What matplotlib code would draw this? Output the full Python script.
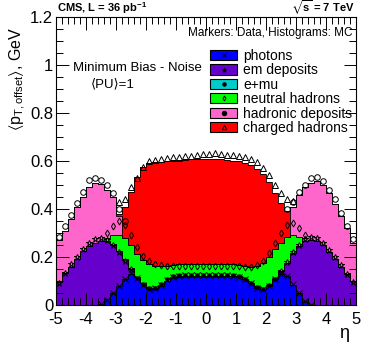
import numpy as np
import matplotlib
matplotlib.use("Agg")
import matplotlib.pyplot as plt
from matplotlib.lines import Line2D
from matplotlib.patches import Rectangle
from matplotlib.legend_handler import HandlerBase
from matplotlib.ticker import MultipleLocator, FormatStrFormatter

plt.rcParams['font.family'] = ['Liberation Sans', 'DejaVu Sans']
plt.rcParams['axes.unicode_minus'] = False
plt.rcParams['mathtext.fontset'] = 'custom'
plt.rcParams['mathtext.rm'] = 'Liberation Sans'
plt.rcParams['mathtext.it'] = 'Liberation Sans'
plt.rcParams['mathtext.bf'] = 'Liberation Sans:bold'
plt.rcParams['mathtext.fallback'] = 'stixsans'

# eta binning, 50 bins of 0.2
eta_edges = np.linspace(-5, 5, 51)

labels = ['photons', 'em deposits', 'e+mu', 'neutral hadrons',
          'hadronic deposits', 'charged hadrons']
colors = ['#0000ff', '#6600cc', '#00cccc', '#00ff00', '#ff66cc', '#ff0000']
markers = ['x', '*', 'o', 'd', 'o', '^']

# MC (histograms), per component, GeV
mc_photons = [0, 0, 0, 0, 0, 0, 0, 0.005, 0.025, 0.05,
              0.08, 0.11, 0.13, 0.115, 0.09, 0.068, 0.068, 0.08, 0.1, 0.113,
              0.118, 0.12, 0.12, 0.12, 0.12, 0.12, 0.12, 0.12, 0.12, 0.12,
              0.117, 0.108, 0.09, 0.072, 0.065, 0.08, 0.11, 0.13, 0.12, 0.085,
              0.05, 0.015, 0, 0, 0, 0, 0, 0, 0, 0]
mc_em = [0.095, 0.135, 0.16, 0.19, 0.225, 0.245, 0.26, 0.26, 0.24, 0.2,
         0.145, 0.08, 0.02, 0, 0, 0, 0, 0, 0, 0,
         0, 0, 0, 0, 0, 0, 0, 0, 0, 0,
         0, 0, 0, 0, 0, 0, 0, 0.01, 0.055, 0.13,
         0.195, 0.25, 0.27, 0.265, 0.25, 0.22, 0.19, 0.16, 0.13, 0.1]
mc_emu = [0, 0, 0, 0, 0, 0, 0, 0, 0, 0,
          0, 0, 0, 0.002, 0.002, 0.002, 0.002, 0.002, 0.002, 0.002,
          0.002, 0.002, 0.002, 0.002, 0.002, 0.002, 0.002, 0.002, 0.002, 0.002,
          0.002, 0.002, 0.002, 0.002, 0.002, 0.002, 0.002, 0, 0, 0,
          0, 0, 0, 0, 0, 0, 0, 0, 0, 0]
mc_neutral = [0, 0, 0, 0, 0, 0, 0, 0, 0.015, 0.04,
              0.065, 0.09, 0.1, 0.095, 0.095, 0.102, 0.094, 0.08, 0.062, 0.052,
              0.05, 0.048, 0.048, 0.048, 0.048, 0.048, 0.048, 0.048, 0.048, 0.048,
              0.048, 0.052, 0.065, 0.088, 0.107, 0.12, 0.12, 0.12, 0.11, 0.075,
              0.04, 0, 0, 0, 0, 0, 0, 0, 0, 0]
mc_hadronic = [0.175, 0.175, 0.2, 0.22, 0.225, 0.245, 0.25, 0.24, 0.2, 0.16,
               0.08, 0, 0, 0, 0, 0, 0, 0, 0, 0,
               0, 0, 0, 0, 0, 0, 0, 0, 0, 0,
               0, 0, 0, 0, 0, 0, 0, 0, 0, 0.12,
               0.175, 0.225, 0.24, 0.25, 0.25, 0.245, 0.23, 0.21, 0.19, 0.16]
mc_charged = [0, 0, 0, 0, 0, 0, 0, 0, 0, 0,
              0.01, 0.13, 0.22, 0.32, 0.39, 0.42, 0.433, 0.435, 0.435, 0.433,
              0.432, 0.434, 0.437, 0.439, 0.439, 0.439, 0.44, 0.439, 0.435, 0.432,
              0.432, 0.43, 0.425, 0.405, 0.373, 0.31, 0.235, 0.165, 0.105, 0,
              0, 0, 0, 0, 0, 0, 0, 0, 0, 0]

# Data (markers), per component, GeV
data_photons = [0, 0, 0, 0, 0, 0, 0, 0.003, 0.022, 0.05,
                0.08, 0.11, 0.132, 0.112, 0.085, 0.068, 0.07, 0.085, 0.105, 0.117,
                0.122, 0.123, 0.123, 0.123, 0.123, 0.123, 0.123, 0.123, 0.123, 0.122,
                0.118, 0.108, 0.09, 0.072, 0.066, 0.08, 0.108, 0.128, 0.12, 0.088,
                0.052, 0.018, 0.002, 0, 0, 0, 0, 0, 0, 0]
data_em = [0.09, 0.135, 0.17, 0.2, 0.235, 0.26, 0.275, 0.277, 0.248, 0.2,
           0.14, 0.075, 0.018, 0, 0, 0, 0, 0, 0, 0,
           0, 0, 0, 0, 0, 0, 0, 0, 0, 0,
           0, 0, 0, 0, 0, 0, 0, 0.012, 0.06, 0.132,
           0.198, 0.257, 0.283, 0.28, 0.26, 0.23, 0.2, 0.165, 0.13, 0.095]
data_emu = [0, 0, 0, 0, 0, 0, 0, 0, 0, 0,
            0, 0, 0, 0.002, 0.002, 0.002, 0.002, 0.002, 0.002, 0.002,
            0.002, 0.002, 0.002, 0.002, 0.002, 0.002, 0.002, 0.002, 0.002, 0.002,
            0.002, 0.002, 0.002, 0.002, 0.002, 0.002, 0.002, 0, 0, 0,
            0, 0, 0, 0, 0, 0, 0, 0, 0, 0]
data_neutral = [0, 0, 0, 0, 0, 0, 0, 0, 0.03, 0.08,
                0.13, 0.15, 0.14, 0.126, 0.118, 0.115, 0.1, 0.078, 0.055, 0.043,
                0.038, 0.037, 0.037, 0.037, 0.037, 0.037, 0.037, 0.037, 0.037, 0.038,
                0.042, 0.05, 0.068, 0.094, 0.117, 0.133, 0.15, 0.16, 0.155, 0.12,
                0.07, 0.015, 0, 0, 0, 0, 0, 0, 0, 0]
data_hadronic = [0.195, 0.195, 0.205, 0.225, 0.235, 0.26, 0.255, 0.24, 0.2, 0.135,
                 0.05, 0.015, 0, 0, 0, 0, 0, 0, 0, 0,
                 0, 0, 0, 0, 0, 0, 0, 0, 0, 0,
                 0, 0, 0, 0, 0, 0, 0, 0, 0.065, 0.09,
                 0.15, 0.21, 0.245, 0.255, 0.255, 0.25, 0.24, 0.22, 0.2, 0.18]
data_charged = [0, 0, 0, 0, 0, 0, 0, 0, 0, 0,
                0.03, 0.09, 0.2, 0.29, 0.37, 0.415, 0.433, 0.445, 0.45, 0.453,
                0.456, 0.458, 0.46, 0.463, 0.466, 0.468, 0.47, 0.468, 0.465, 0.462,
                0.458, 0.455, 0.447, 0.427, 0.385, 0.325, 0.24, 0.165, 0.04, 0.005,
                0, 0, 0, 0, 0, 0, 0, 0, 0, 0]

mc = np.array([mc_photons, mc_em, mc_emu, mc_neutral, mc_hadronic, mc_charged])
data = np.array([data_photons, data_em, data_emu, data_neutral, data_hadronic,
                 data_charged])
eta = 0.5 * (eta_edges[1:] + eta_edges[:-1])


class BoxWithMarker(HandlerBase):
    # filled box with the data marker in its middle, like the ROOT legend
    def create_artists(self, legend, orig, xdescent, ydescent, width, height,
                       fontsize, trans):
        box = Rectangle((-xdescent, -ydescent), width, height,
                        facecolor=orig.get_markerfacecolor(),
                        edgecolor='black', lw=0.8, transform=trans)
        mk = Line2D([-xdescent + width / 2], [-ydescent + height / 2],
                    ls='none', marker=orig.get_marker(), color='black',
                    ms=orig.get_markersize(), mew=0.7,
                    mfc='none' if orig.get_marker() in ('d', '^') else 'black',
                    transform=trans)
        return [box, mk]


fig = plt.figure(figsize=(3.74, 3.59), dpi=100)
ax = fig.add_axes([0.1497, 0.1504, 0.8021, 0.8022])

# stacked histograms
tops = np.cumsum(mc, axis=0)
bottom = np.zeros(len(eta))
for k in range(len(mc)):
    ax.stairs(tops[k], eta_edges, baseline=bottom, fill=True,
              color=colors[k], lw=0, zorder=1)
    ax.stairs(tops[k], eta_edges, baseline=None, color='black', lw=0.6,
              zorder=2)
    bottom = tops[k]

# data markers at the stacked level
dtops = np.cumsum(data, axis=0)
msizes = [4, 5, 2.5, 3.5, 4, 4]
for k in range(len(data) - 1, -1, -1):
    sel = data[k] > 0
    fill = 'black' if k == 2 else 'none'
    ax.plot(eta[sel], dtops[k][sel], ls='none', marker=markers[k],
            ms=msizes[k], mec='black', mfc=fill, mew=0.7, zorder=3)

ax.set_xlim(-5, 5)
ax.set_ylim(0, 1.2)
ax.xaxis.set_major_locator(MultipleLocator(1))
ax.xaxis.set_minor_locator(MultipleLocator(0.2))
ax.yaxis.set_major_locator(MultipleLocator(0.2))
ax.yaxis.set_minor_locator(MultipleLocator(0.05))
ax.yaxis.set_major_formatter(FormatStrFormatter('%g'))
ax.tick_params(which='both', direction='in', top=True, right=True,
               labelsize=12, width=0.7)
ax.tick_params(which='major', length=9)
ax.tick_params(which='minor', length=5)
ax.tick_params(axis='x', pad=5)
ax.tick_params(axis='y', pad=2)
for s in ax.spines.values():
    s.set_linewidth(0.8)

# legend
handles = []
for k in range(len(labels)):
    ms = 2.5 if k in (2, 3) else 3.2
    handles.append(Line2D([], [], marker=markers[k], mfc=colors[k], ms=ms))
ax.legend(handles, labels, handler_map={Line2D: BoxWithMarker()},
          loc='upper left', bbox_to_anchor=(0.515, 0.889), frameon=False,
          fontsize=10, handlelength=1.9, handleheight=0.75,
          handletextpad=0.45, labelspacing=0.03, borderpad=0,
          borderaxespad=0)

ax.text(0.987, 0.944, 'Markers: Data, Histograms: MC', transform=ax.transAxes,
        ha='right', va='center', fontsize=8.5)
ax.text(0.273, 0.823, 'Minimum Bias - Noise', transform=ax.transAxes,
        ha='center', va='center', fontsize=9.5)
ax.text(0.19, 0.767, '\u27e8PU\u27e9=1', transform=ax.transAxes,
        ha='center', va='center', fontsize=9.5)

fig.text(0.152, 0.978, r'CMS, L = 36 pb$^{\mathbf{-1}}$', ha='left',
         va='center', fontsize=8, fontweight='bold')
fig.text(0.949, 0.978, r'$\mathbf{\sqrt{s}}$ = 7 TeV', ha='right',
         va='center', fontsize=8, fontweight='bold')
fig.text(0.92, 0.072, '\u03b7', ha='center', va='center', fontsize=13)
fig.text(0.047, 0.925, r'$\langle p_{T,offset}\rangle$, GeV', ha='center',
         va='top', rotation=90, fontsize=11.5)

fig.savefig('out.png', dpi=100)
